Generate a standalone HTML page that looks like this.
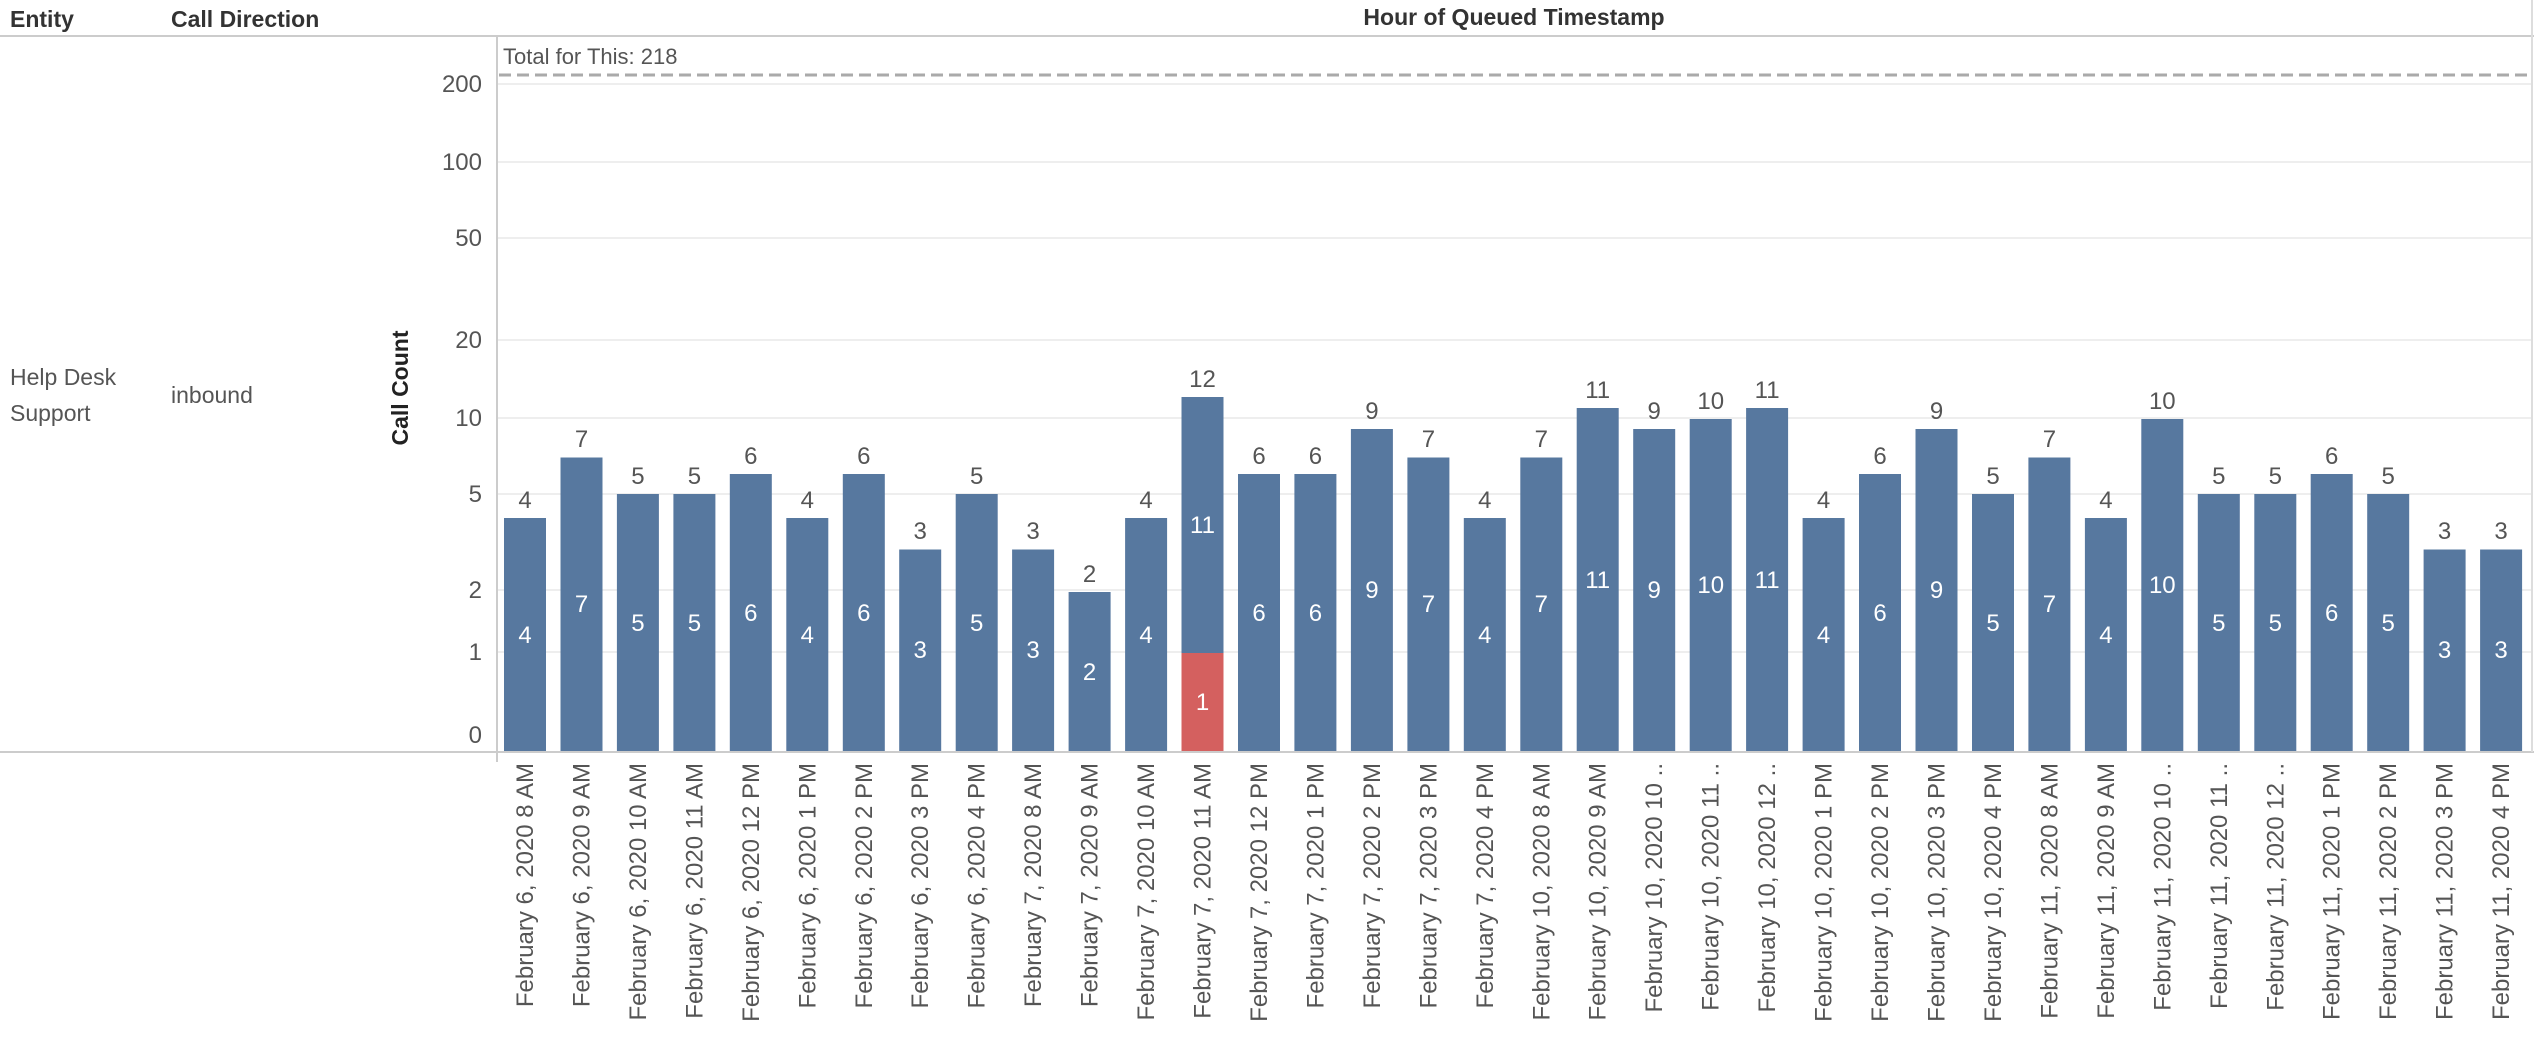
<!DOCTYPE html>
<html><head><meta charset="utf-8"><style>
html,body{margin:0;padding:0;background:#fff;width:2534px;height:1041px;overflow:hidden}
svg{display:block;font-family:"Liberation Sans",sans-serif}
</style></head><body>
<svg width="2534" height="1041" viewBox="0 0 2534 1041" xmlns="http://www.w3.org/2000/svg">
<g font-size="23" fill="#333" font-weight="bold">
<text x="10" y="27">Entity</text>
<text x="171" y="27">Call Direction</text>
<text x="1514" y="25" text-anchor="middle">Hour of Queued Timestamp</text>
</g>
<line x1="0" y1="36" x2="2534" y2="36" stroke="#ccc" stroke-width="2"/>
<line x1="0" y1="752" x2="2534" y2="752" stroke="#ccc" stroke-width="2"/>
<line x1="497" y1="36" x2="497" y2="762" stroke="#ccc" stroke-width="2"/>
<line x1="2532" y1="0" x2="2532" y2="752" stroke="#ddd" stroke-width="2"/>
<g font-size="23" fill="#555">
<text x="10" y="385">Help Desk</text>
<text x="10" y="421">Support</text>
<text x="171" y="403">inbound</text>
</g>
<text transform="translate(408,388) rotate(-90)" text-anchor="middle" font-size="23" font-weight="bold" fill="#222">Call Count</text>
<g stroke="#eee" stroke-width="2">
<line x1="498" y1="84" x2="2531" y2="84"/><line x1="498" y1="162" x2="2531" y2="162"/>
<line x1="498" y1="238" x2="2531" y2="238"/><line x1="498" y1="340" x2="2531" y2="340"/>
<line x1="498" y1="418" x2="2531" y2="418"/><line x1="498" y1="494" x2="2531" y2="494"/>
<line x1="498" y1="590" x2="2531" y2="590"/><line x1="498" y1="652" x2="2531" y2="652"/>
</g>
<g font-size="24" fill="#555" text-anchor="end">
<text x="482" y="92">200</text><text x="482" y="170">100</text><text x="482" y="246">50</text>
<text x="482" y="348">20</text><text x="482" y="426">10</text><text x="482" y="502">5</text>
<text x="482" y="598">2</text><text x="482" y="660">1</text><text x="482" y="743">0</text>
</g>
<line x1="499" y1="75" x2="2531" y2="75" stroke="#aaa" stroke-width="3" stroke-dasharray="12,6"/>
<text x="503" y="64" font-size="22" fill="#555">Total for This: 218</text>
<g fill="#57789f">
<rect x="504" y="518" width="42" height="233"/><rect x="560.5" y="457.5" width="42" height="293.5"/>
<rect x="616.9" y="494" width="42" height="257"/><rect x="673.4" y="494" width="42" height="257"/>
<rect x="729.8" y="474" width="42" height="277"/><rect x="786.3" y="518" width="42" height="233"/>
<rect x="842.8" y="474" width="42" height="277"/><rect x="899.2" y="549.5" width="42" height="201.5"/>
<rect x="955.7" y="494" width="42" height="257"/><rect x="1012.1" y="549.5" width="42" height="201.5"/>
<rect x="1068.6" y="592" width="42" height="159"/><rect x="1125.1" y="518" width="42" height="233"/>
<rect x="1181.5" y="397" width="42" height="256"/><rect x="1238" y="474" width="42" height="277"/>
<rect x="1294.4" y="474" width="42" height="277"/><rect x="1350.9" y="429" width="42" height="322"/>
<rect x="1407.4" y="457.5" width="42" height="293.5"/><rect x="1463.8" y="518" width="42" height="233"/>
<rect x="1520.3" y="457.5" width="42" height="293.5"/><rect x="1576.7" y="408" width="42" height="343"/>
<rect x="1633.2" y="429" width="42" height="322"/><rect x="1689.7" y="419" width="42" height="332"/>
<rect x="1746.1" y="408" width="42" height="343"/><rect x="1802.6" y="518" width="42" height="233"/>
<rect x="1859" y="474" width="42" height="277"/><rect x="1915.5" y="429" width="42" height="322"/>
<rect x="1972" y="494" width="42" height="257"/><rect x="2028.4" y="457.5" width="42" height="293.5"/>
<rect x="2084.9" y="518" width="42" height="233"/><rect x="2141.3" y="419" width="42" height="332"/>
<rect x="2197.8" y="494" width="42" height="257"/><rect x="2254.3" y="494" width="42" height="257"/>
<rect x="2310.7" y="474" width="42" height="277"/><rect x="2367.2" y="494" width="42" height="257"/>
<rect x="2423.6" y="549.5" width="42" height="201.5"/><rect x="2480.1" y="549.5" width="42" height="201.5"/>
</g>
<rect x="1181.5" y="653" width="42" height="98" fill="#d4605f"/>
<g font-size="24" fill="#555" text-anchor="middle">
<text x="525" y="508">4</text><text x="581.5" y="447">7</text><text x="637.9" y="484">5</text><text x="694.4" y="484">5</text>
<text x="750.8" y="464">6</text><text x="807.3" y="508">4</text><text x="863.8" y="464">6</text><text x="920.2" y="539">3</text>
<text x="976.7" y="484">5</text><text x="1033.1" y="539">3</text><text x="1089.6" y="582">2</text><text x="1146.1" y="508">4</text>
<text x="1202.5" y="387">12</text><text x="1259" y="464">6</text><text x="1315.4" y="464">6</text><text x="1371.9" y="419">9</text>
<text x="1428.4" y="447">7</text><text x="1484.8" y="508">4</text><text x="1541.3" y="447">7</text><text x="1597.7" y="398">11</text>
<text x="1654.2" y="419">9</text><text x="1710.7" y="409">10</text><text x="1767.1" y="398">11</text><text x="1823.6" y="508">4</text>
<text x="1880" y="464">6</text><text x="1936.5" y="419">9</text><text x="1993" y="484">5</text><text x="2049.4" y="447">7</text>
<text x="2105.9" y="508">4</text><text x="2162.3" y="409">10</text><text x="2218.8" y="484">5</text><text x="2275.3" y="484">5</text>
<text x="2331.7" y="464">6</text><text x="2388.2" y="484">5</text><text x="2444.6" y="539">3</text><text x="2501.1" y="539">3</text>
</g>
<g font-size="24" fill="#fff" text-anchor="middle">
<text x="525" y="643">4</text><text x="581.5" y="612">7</text><text x="637.9" y="631">5</text><text x="694.4" y="631">5</text>
<text x="750.8" y="621">6</text><text x="807.3" y="643">4</text><text x="863.8" y="621">6</text><text x="920.2" y="658">3</text>
<text x="976.7" y="631">5</text><text x="1033.1" y="658">3</text><text x="1089.6" y="680">2</text><text x="1146.1" y="643">4</text>
<text x="1202.5" y="533">11</text><text x="1202.5" y="710">1</text>
<text x="1259" y="621">6</text><text x="1315.4" y="621">6</text><text x="1371.9" y="598">9</text>
<text x="1428.4" y="612">7</text><text x="1484.8" y="643">4</text><text x="1541.3" y="612">7</text><text x="1597.7" y="588">11</text>
<text x="1654.2" y="598">9</text><text x="1710.7" y="593">10</text><text x="1767.1" y="588">11</text><text x="1823.6" y="643">4</text>
<text x="1880" y="621">6</text><text x="1936.5" y="598">9</text><text x="1993" y="631">5</text><text x="2049.4" y="612">7</text>
<text x="2105.9" y="643">4</text><text x="2162.3" y="593">10</text><text x="2218.8" y="631">5</text><text x="2275.3" y="631">5</text>
<text x="2331.7" y="621">6</text><text x="2388.2" y="631">5</text><text x="2444.6" y="658">3</text><text x="2501.1" y="658">3</text>
</g>
<g font-size="24" fill="#555" text-anchor="end">
<text transform="translate(533,763) rotate(-90)">February 6, 2020 8 AM</text>
<text transform="translate(589.5,763) rotate(-90)">February 6, 2020 9 AM</text>
<text transform="translate(645.9,763) rotate(-90)">February 6, 2020 10 AM</text>
<text transform="translate(702.4,763) rotate(-90)">February 6, 2020 11 AM</text>
<text transform="translate(758.8,763) rotate(-90)">February 6, 2020 12 PM</text>
<text transform="translate(815.3,763) rotate(-90)">February 6, 2020 1 PM</text>
<text transform="translate(871.8,763) rotate(-90)">February 6, 2020 2 PM</text>
<text transform="translate(928.2,763) rotate(-90)">February 6, 2020 3 PM</text>
<text transform="translate(984.7,763) rotate(-90)">February 6, 2020 4 PM</text>
<text transform="translate(1041.1,763) rotate(-90)">February 7, 2020 8 AM</text>
<text transform="translate(1097.6,763) rotate(-90)">February 7, 2020 9 AM</text>
<text transform="translate(1154.1,763) rotate(-90)">February 7, 2020 10 AM</text>
<text transform="translate(1210.5,763) rotate(-90)">February 7, 2020 11 AM</text>
<text transform="translate(1267,763) rotate(-90)">February 7, 2020 12 PM</text>
<text transform="translate(1323.4,763) rotate(-90)">February 7, 2020 1 PM</text>
<text transform="translate(1379.9,763) rotate(-90)">February 7, 2020 2 PM</text>
<text transform="translate(1436.4,763) rotate(-90)">February 7, 2020 3 PM</text>
<text transform="translate(1492.8,763) rotate(-90)">February 7, 2020 4 PM</text>
<text transform="translate(1549.3,763) rotate(-90)">February 10, 2020 8 AM</text>
<text transform="translate(1605.7,763) rotate(-90)">February 10, 2020 9 AM</text>
<text transform="translate(1662.2,763) rotate(-90)">February 10, 2020 10 ..</text>
<text transform="translate(1718.7,763) rotate(-90)">February 10, 2020 11 ..</text>
<text transform="translate(1775.1,763) rotate(-90)">February 10, 2020 12 ..</text>
<text transform="translate(1831.6,763) rotate(-90)">February 10, 2020 1 PM</text>
<text transform="translate(1888,763) rotate(-90)">February 10, 2020 2 PM</text>
<text transform="translate(1944.5,763) rotate(-90)">February 10, 2020 3 PM</text>
<text transform="translate(2001,763) rotate(-90)">February 10, 2020 4 PM</text>
<text transform="translate(2057.4,763) rotate(-90)">February 11, 2020 8 AM</text>
<text transform="translate(2113.9,763) rotate(-90)">February 11, 2020 9 AM</text>
<text transform="translate(2170.3,763) rotate(-90)">February 11, 2020 10 ..</text>
<text transform="translate(2226.8,763) rotate(-90)">February 11, 2020 11 ..</text>
<text transform="translate(2283.3,763) rotate(-90)">February 11, 2020 12 ..</text>
<text transform="translate(2339.7,763) rotate(-90)">February 11, 2020 1 PM</text>
<text transform="translate(2396.2,763) rotate(-90)">February 11, 2020 2 PM</text>
<text transform="translate(2452.6,763) rotate(-90)">February 11, 2020 3 PM</text>
<text transform="translate(2509.1,763) rotate(-90)">February 11, 2020 4 PM</text>
</g>
</svg>
</body></html>
